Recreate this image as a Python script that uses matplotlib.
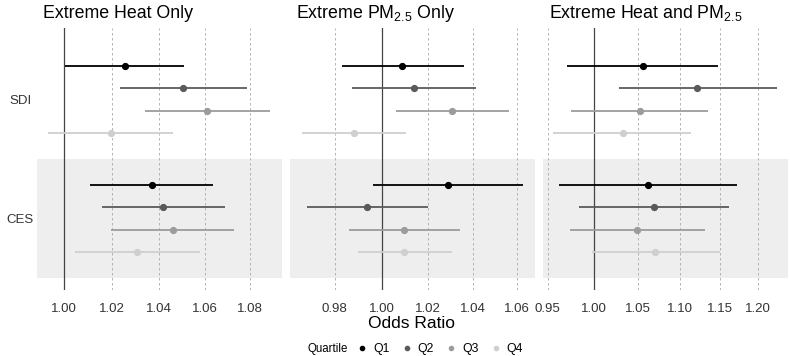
import matplotlib.pyplot as plt
import numpy as np

plt.rcParams['font.family'] = ['Liberation Sans', 'DejaVu Sans']
plt.rcParams['mathtext.fontset'] = 'custom'
plt.rcParams['mathtext.rm'] = 'Liberation Sans'
plt.rcParams['mathtext.it'] = 'Liberation Sans:italic'

# data: rows are SDI Q1..Q4 then CES Q1..Q4
quartiles = ['Q1', 'Q2', 'Q3', 'Q4']
indices = ['SDI', 'CES']
colors = ['#000000', '#5a5a5a', '#9c9c9c', '#cfcfcf']

titles = ['Extreme Heat Only', 'Extreme PM$_{2.5}$ Only', 'Extreme Heat and PM$_{2.5}$']

heat_or = [1.0254, 1.0506, 1.0611, 1.0195, 1.0371, 1.0419, 1.0460, 1.0307]
heat_lo = [1.0004, 1.0234, 1.0341, 0.9935, 1.0109, 1.0157, 1.0196, 1.0047]
heat_hi = [1.0510, 1.0785, 1.0890, 1.0463, 1.0637, 1.0690, 1.0730, 1.0579]

pm_or = [1.0089, 1.0139, 1.0306, 0.9880, 1.0288, 0.9938, 1.0098, 1.0098]
pm_lo = [0.9829, 0.9872, 1.0060, 0.9661, 0.9963, 0.9682, 0.9860, 0.9897]
pm_hi = [1.0359, 1.0413, 1.0562, 1.0105, 1.0629, 1.0203, 1.0343, 1.0309]

both_or = [1.0556, 1.1216, 1.0524, 1.0327, 1.0618, 1.0685, 1.0493, 1.0705]
both_lo = [0.9708, 1.0285, 0.9748, 0.9558, 0.9622, 0.9835, 0.9740, 0.9980]
both_hi = [1.1473, 1.2251, 1.1354, 1.1138, 1.1718, 1.1618, 1.1309, 1.1500]

xticks = [[1.00, 1.02, 1.04, 1.06, 1.08],
          [0.98, 1.00, 1.02, 1.04, 1.06],
          [0.95, 1.00, 1.05, 1.10, 1.15, 1.20]]
xlims = [(0.9889, 1.0944), (0.9613, 1.0682), (0.945, 1.2406)]

data = [(heat_or, heat_lo, heat_hi), (pm_or, pm_lo, pm_hi), (both_or, both_lo, both_hi)]

fig = plt.figure(figsize=(7.9, 3.56), dpi=100)
lefts = [37, 290, 543]
W, H = 790, 356
top, bottom = 28, 290

offsets = [0.28, 0.094, -0.094, -0.28]
ypos = {'SDI': 1, 'CES': 0}

for p in range(3):
    ax = fig.add_axes([lefts[p] / W, 1 - bottom / H, 245 / W, (bottom - top) / H])
    ax.set_xscale('log')
    ax.set_xlim(*xlims[p])
    ax.set_ylim(-0.6, 1.6)
    # shaded band behind CES
    ax.axhspan(-0.5, 0.5, color='#eeeeee', lw=0, zorder=0)
    for t in xticks[p]:
        if t == 1.0:
            ax.axvline(t, color='#444444', lw=0.9, zorder=1)
        else:
            ax.axvline(t, color='#a8a8a8', lw=0.6, ls=(0, (3, 3)), zorder=1)
    orr, lo, hi = data[p]
    k = 0
    for ind in indices:
        for q in range(4):
            y = ypos[ind] + offsets[q]
            ax.plot([lo[k], hi[k]], [y, y], color=colors[q], lw=1.3, zorder=2,
                    solid_capstyle='butt')
            ax.plot(orr[k], y, 'o', color=colors[q], ms=4.2, zorder=3)
            k += 1
    ax.set_xticks(xticks[p])
    ax.set_xticklabels(['%.2f' % t for t in xticks[p]])
    ax.xaxis.set_minor_locator(plt.NullLocator())
    ax.tick_params(axis='x', length=0, labelsize=9.5, labelcolor='#333333', pad=9)
    if p == 0:
        ax.set_yticks([1, 0])
        ax.set_yticklabels(['SDI', 'CES'], ha='center')
        ax.tick_params(axis='y', length=0, labelsize=9.5, labelcolor='#333333', pad=12)
    else:
        ax.set_yticks([])
    for s in ax.spines.values():
        s.set_visible(False)
    ax.set_title(titles[p], loc='left', fontsize=12.8, pad=7, x=0.025)

fig.text(412 / W, 1 - 324 / H, 'Odds Ratio', ha='center', va='center', fontsize=12.5)

fig.text(307 / W, 1 - 349 / H, 'Quartile', ha='left', va='center', fontsize=8.3)
handles = [plt.Line2D([], [], ls='none', marker='o', color=c, ms=3) for c in colors]
fig.legend(handles, quartiles, loc='center', bbox_to_anchor=(439 / W, 1 - 349 / H),
           ncol=4, frameon=False, fontsize=8.8, handletextpad=0.3, columnspacing=0.8,
           handlelength=1.2, borderpad=0)

fig.savefig('out.png', dpi=100)
